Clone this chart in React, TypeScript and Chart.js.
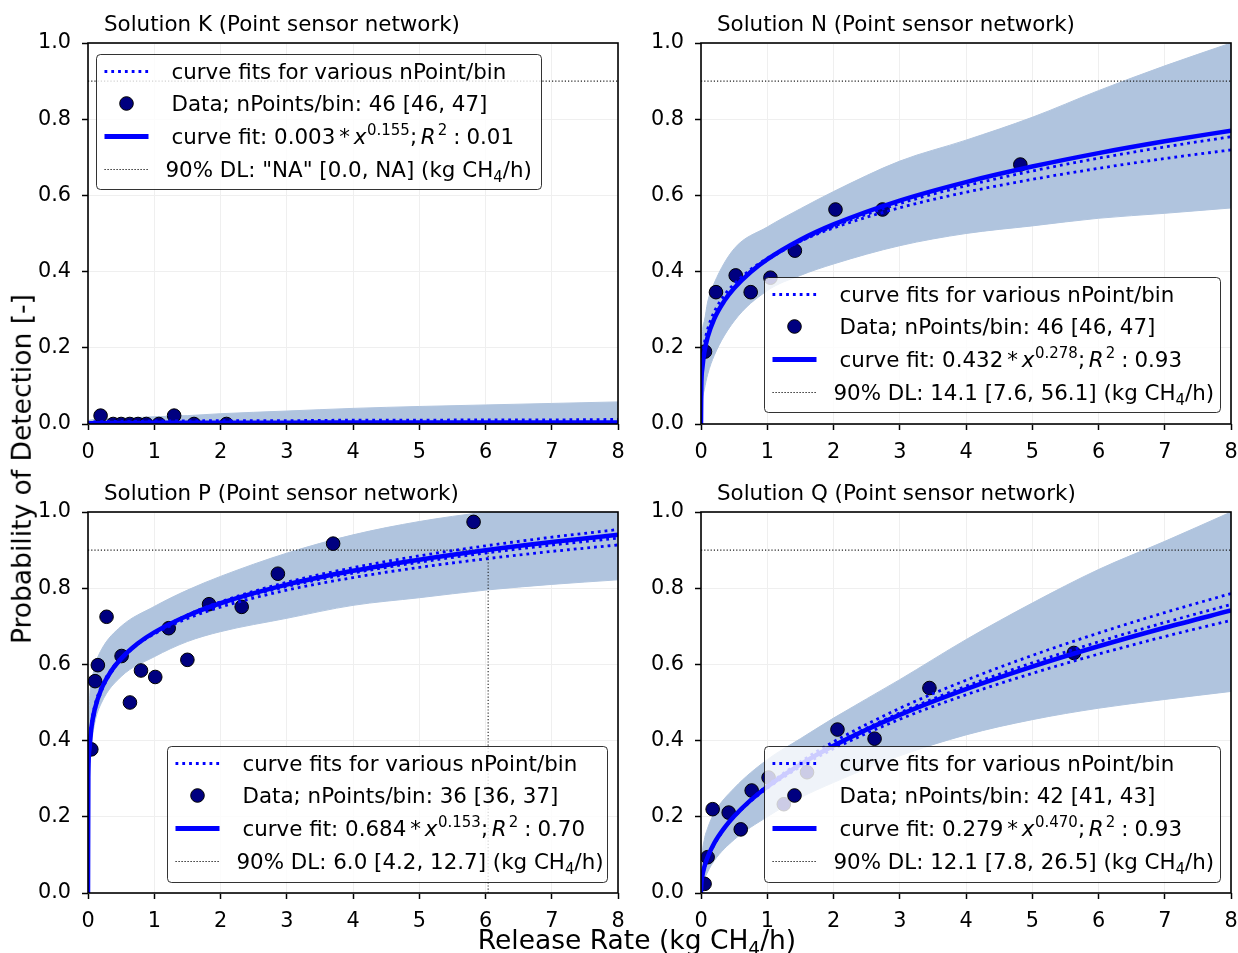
import React, { useEffect, useRef } from 'react';
import { Chart, registerables } from 'chart.js';

Chart.register(...registerables);

const FONT = '"DejaVu Sans", "Liberation Sans", sans-serif';
Chart.defaults.font.family = FONT;

// ---------------- DATA ----------------
const X_TICKS = [0, 1, 2, 3, 4, 5, 6, 7, 8];
const Y_TICKS = [0, 0.2, 0.4, 0.6, 0.8, 1.0];
const DL_LEVEL = 0.9;

// sample positions of the curves (release rate, kg CH4/h)
const CURVE_X = [0, 0.005, 0.02, 0.05, 0.1, 0.2, 0.35, 0.5, 0.75, 1, 1.5, 2, 3, 4, 5, 6, 7, 8];
// sample positions of the bootstrap envelope
const BAND_X = [0, 0.02, 0.05, 0.1, 0.2, 0.5, 1, 1.5, 2, 3, 4, 5, 6, 7, 8];

// ---- Solution K ----
const K_DATA_X = [0.19, 0.38, 0.5, 0.63, 0.755, 0.88, 1.07, 1.3, 1.6, 2.09];
const K_DATA_Y = [0.022, 0, 0, 0, 0, 0, 0, 0.022, 0, 0];
const K_FIT = [0, 0.0013, 0.0016, 0.0019, 0.0021, 0.0023, 0.0026, 0.0027, 0.0029, 0.003, 0.0032, 0.0033, 0.0036, 0.0037, 0.0038, 0.004, 0.0041, 0.0041];
const K_DOT_1 = [0, 0.004, 0.005, 0.005, 0.006, 0.006, 0.007, 0.007, 0.007, 0.008, 0.008, 0.009, 0.009, 0.01, 0.01, 0.011, 0.011, 0.012];
const K_BAND_UP = [0.008, 0.01, 0.011, 0.012, 0.013, 0.015, 0.019, 0.022, 0.027, 0.034, 0.041, 0.046, 0.05, 0.054, 0.058];
const K_BAND_LO = [0, 0, 0, 0, 0, 0, 0, 0, 0, 0, 0, 0, 0, 0, 0];

// ---- Solution N ----
const N_DATA_X = [0.06, 0.226, 0.524, 0.75, 1.048, 1.417, 2.03, 2.74, 4.82];
const N_DATA_Y = [0.19, 0.346, 0.39, 0.346, 0.384, 0.455, 0.563, 0.563, 0.681];
const N_FIT = [0, 0.099, 0.1456, 0.1878, 0.2278, 0.2762, 0.3227, 0.3563, 0.3988, 0.432, 0.4835, 0.5238, 0.5864, 0.635, 0.6757, 0.711, 0.742, 0.77];
const N_DOT_1 = [0, 0.1207, 0.1688, 0.2107, 0.2492, 0.2947, 0.3374, 0.3678, 0.4057, 0.435, 0.4798, 0.5144, 0.5675, 0.6084, 0.642, 0.671, 0.6967, 0.7194];
const N_DOT_2 = [0, 0.1029, 0.1496, 0.1915, 0.2309, 0.2785, 0.3239, 0.3566, 0.3978, 0.43, 0.4797, 0.5185, 0.5785, 0.6252, 0.664, 0.6975, 0.7272, 0.754];
const N_BAND_UP = [0, 0.23, 0.27, 0.32, 0.37, 0.46, 0.517, 0.565, 0.61, 0.69, 0.745, 0.805, 0.875, 0.94, 1.0];
const N_BAND_LO = [0, 0.06, 0.09, 0.13, 0.18, 0.27, 0.35, 0.39, 0.42, 0.468, 0.5, 0.52, 0.54, 0.553, 0.567];

// ---- Solution P ----
const P_DATA_X = [0.05, 0.107, 0.149, 0.28, 0.507, 0.633, 0.8, 1.015, 1.218, 1.5, 1.827, 2.32, 2.866, 3.7, 5.82];
const P_DATA_Y = [0.377, 0.556, 0.598, 0.725, 0.622, 0.5, 0.584, 0.567, 0.695, 0.612, 0.758, 0.751, 0.838, 0.917, 0.974];
const P_FIT = [0, 0.3041, 0.3759, 0.4325, 0.4809, 0.5348, 0.5825, 0.6152, 0.6546, 0.684, 0.7278, 0.7605, 0.8093, 0.8456, 0.8749, 0.8998, 0.9213, 0.9401];
const P_DOT_1 = [0, 0.293, 0.3658, 0.4235, 0.4732, 0.5287, 0.5782, 0.6122, 0.6532, 0.684, 0.7299, 0.7642, 0.8155, 0.8538, 0.8849, 0.9111, 0.9339, 0.954];
const P_DOT_2 = [0, 0.3205, 0.3902, 0.4444, 0.4904, 0.5411, 0.5858, 0.6163, 0.6527, 0.68, 0.7203, 0.7503, 0.7948, 0.8279, 0.8546, 0.877, 0.8965, 0.9136];
const P_DOT_3 = [0, 0.308, 0.3793, 0.4351, 0.4828, 0.5357, 0.5826, 0.6146, 0.6532, 0.682, 0.7248, 0.7567, 0.8043, 0.8396, 0.8682, 0.8923, 0.9132, 0.9316];
const P_BAND_UP = [0, 0.48, 0.55, 0.594, 0.638, 0.7, 0.752, 0.795, 0.831, 0.892, 0.94, 0.975, 1.0, 1.02, 1.04];
const P_BAND_LO = [0, 0.3, 0.384, 0.445, 0.498, 0.568, 0.62, 0.66, 0.686, 0.721, 0.755, 0.775, 0.795, 0.81, 0.822];
const P_DL = 6.04;

// ---- Solution Q ----
const Q_DATA_X = [0.054, 0.1, 0.176, 0.418, 0.6, 0.765, 1.02, 1.25, 1.6, 2.06, 2.62, 3.448, 5.628];
const Q_DATA_Y = [0.024, 0.094, 0.22, 0.211, 0.167, 0.269, 0.303, 0.233, 0.317, 0.429, 0.405, 0.538, 0.63];
const Q_FIT = [0, 0.0231, 0.0444, 0.0682, 0.0945, 0.131, 0.1703, 0.2014, 0.2437, 0.279, 0.3376, 0.3865, 0.4676, 0.5353, 0.5944, 0.6476, 0.6963, 0.7414];
const Q_DOT_1 = [0, 0.0207, 0.041, 0.0644, 0.0906, 0.1275, 0.168, 0.2004, 0.2447, 0.282, 0.3443, 0.3969, 0.4848, 0.5585, 0.6235, 0.6822, 0.736, 0.786];
const Q_DOT_2 = [0, 0.024, 0.0455, 0.0693, 0.0953, 0.1312, 0.1696, 0.1999, 0.2409, 0.275, 0.3313, 0.3783, 0.4559, 0.5203, 0.5765, 0.6271, 0.6731, 0.7156];
const Q_DOT_3 = [0, 0.0219, 0.0427, 0.0662, 0.0924, 0.1289, 0.1685, 0.2, 0.243, 0.279, 0.3389, 0.3891, 0.4728, 0.5427, 0.604, 0.6594, 0.71, 0.757];
const Q_BAND_UP = [0, 0.1, 0.14, 0.17, 0.21, 0.275, 0.35, 0.405, 0.459, 0.56, 0.665, 0.761, 0.849, 0.923, 1.0];
const Q_BAND_LO = [0, 0.015, 0.035, 0.055, 0.085, 0.14, 0.2, 0.25, 0.29, 0.36, 0.415, 0.455, 0.485, 0.508, 0.529];

// legend texts
const TITLES = ['Solution K (Point sensor network)', 'Solution N (Point sensor network)', 'Solution P (Point sensor network)', 'Solution Q (Point sensor network)'];
const N_POINTS = ['46 [46, 47]', '46 [46, 47]', '36 [36, 37]', '42 [41, 43]'];
const FIT_A = ['0.003', '0.432', '0.684', '0.279'];
const FIT_B = ['0.155', '0.278', '0.153', '0.470'];
const FIT_R2 = ['0.01', '0.93', '0.70', '0.93'];
const DL_TEXT = ['"NA" [0.0, NA]', '14.1 [7.6, 56.1]', '6.0 [4.2, 12.7]', '12.1 [7.8, 26.5]'];

// ---------------- STYLE / LAYOUT ----------------
const BLUE = '#0000ff';
const NAVY = '#000080';
const BAND = '#b0c4de';
const GRID = '#efefef';
const AXW = 60; // y-axis width in canvas
const PAD_T = 43;
const PAD_R = 12;
const XAXH = 35;
const AREA_W = 530;
const AREA_H = 381;
const CW = AXW + AREA_W + PAD_R;
const CH = PAD_T + AREA_H + XAXH;
const TXT = 21.4;

type Seg = { t?: string; it?: boolean; sup?: boolean; sub?: boolean; g?: number };

type Panel = {
  idx: number;
  left: number;
  top: number;
  fit: number[];
  dots: number[][];
  bandUp: number[];
  bandLo: number[];
  dataX: number[];
  dataY: number[];
  hEnd: number;
  vLine: number | null;
  legend: { dx: number; dy: number; w: number; h: number };
};

const PANELS: Panel[] = [
  { idx: 0, left: 88, top: 43, fit: K_FIT, dots: [K_DOT_1], bandUp: K_BAND_UP, bandLo: K_BAND_LO, dataX: K_DATA_X, dataY: K_DATA_Y, hEnd: 8, vLine: null, legend: { dx: 8, dy: 11, w: 445, h: 135 } },
  { idx: 1, left: 701, top: 43, fit: N_FIT, dots: [N_DOT_1, N_DOT_2], bandUp: N_BAND_UP, bandLo: N_BAND_LO, dataX: N_DATA_X, dataY: N_DATA_Y, hEnd: 8, vLine: null, legend: { dx: 63, dy: 234, w: 456, h: 135 } },
  { idx: 2, left: 88, top: 512, fit: P_FIT, dots: [P_DOT_1, P_DOT_2, P_DOT_3], bandUp: P_BAND_UP, bandLo: P_BAND_LO, dataX: P_DATA_X, dataY: P_DATA_Y, hEnd: P_DL, vLine: P_DL, legend: { dx: 79, dy: 234, w: 440, h: 136 } },
  { idx: 3, left: 701, top: 512, fit: Q_FIT, dots: [Q_DOT_1, Q_DOT_2, Q_DOT_3], bandUp: Q_BAND_UP, bandLo: Q_BAND_LO, dataX: Q_DATA_X, dataY: Q_DATA_Y, hEnd: 8, vLine: null, legend: { dx: 63, dy: 234, w: 456, h: 136 } },
];

const pts = (xs: number[], ys: number[]) => xs.map((x, i) => ({ x, y: ys[i] }));

function drawRich(ctx: CanvasRenderingContext2D, segs: Seg[], x: number, y: number, size: number) {
  let cx = x;
  for (const s of segs) {
    if (s.g !== undefined) {
      cx += s.g * size;
      continue;
    }
    const small = s.sup || s.sub;
    const fs = small ? size * 0.7 : size;
    ctx.font = `${s.it ? 'italic ' : ''}${fs}px ${FONT}`;
    const dy = s.sup ? -size * 0.42 : s.sub ? size * 0.2 : 0;
    ctx.fillText(s.t || '', cx, y + dy);
    cx += ctx.measureText(s.t || '').width;
  }
}

function panelPlugin(p: Panel) {
  return {
    id: 'panelDeco' + p.idx,
    afterDatasetsDraw(chart: any) {
      const { ctx, chartArea: a } = chart;
      ctx.save();
      ctx.strokeStyle = '#000';
      ctx.lineWidth = 1.6;
      ctx.strokeRect(a.left, a.top, a.right - a.left, a.bottom - a.top);
      ctx.restore();
    },
    afterDraw(chart: any) {
      const { ctx, chartArea: a } = chart;
      const i = p.idx;
      ctx.save();
      // title
      ctx.fillStyle = '#000';
      ctx.textBaseline = 'alphabetic';
      ctx.textAlign = 'left';
      ctx.font = `${TXT}px ${FONT}`;
      ctx.fillText(TITLES[i], a.left + 16, a.top - 12);

      // legend box
      const L = p.legend;
      const x0 = a.left + L.dx + 0.5;
      const y0 = a.top + L.dy + 0.5;
      const r = 4;
      ctx.beginPath();
      ctx.moveTo(x0 + r, y0);
      ctx.lineTo(x0 + L.w - r, y0);
      ctx.arcTo(x0 + L.w, y0, x0 + L.w, y0 + r, r);
      ctx.lineTo(x0 + L.w, y0 + L.h - r);
      ctx.arcTo(x0 + L.w, y0 + L.h, x0 + L.w - r, y0 + L.h, r);
      ctx.lineTo(x0 + r, y0 + L.h);
      ctx.arcTo(x0, y0 + L.h, x0, y0 + L.h - r, r);
      ctx.lineTo(x0, y0 + r);
      ctx.arcTo(x0, y0, x0 + r, y0, r);
      ctx.closePath();
      ctx.fillStyle = 'rgba(255,255,255,0.8)';
      ctx.fill();
      ctx.strokeStyle = 'rgba(0,0,0,0.8)';
      ctx.lineWidth = 1;
      ctx.stroke();

      const rows = [17, 49, 82, 115].map((v) => y0 + v);
      const s0 = x0 + 8;
      const s1 = x0 + 52;
      // row 1: dotted blue
      ctx.strokeStyle = BLUE;
      ctx.lineWidth = 2.8;
      ctx.setLineDash([2.8, 4]);
      ctx.beginPath();
      ctx.moveTo(s0, rows[0]);
      ctx.lineTo(s1, rows[0]);
      ctx.stroke();
      // row 2: data marker
      ctx.setLineDash([]);
      ctx.beginPath();
      ctx.arc((s0 + s1) / 2, rows[1], 6.8, 0, Math.PI * 2);
      ctx.fillStyle = NAVY;
      ctx.fill();
      ctx.strokeStyle = '#000';
      ctx.lineWidth = 1;
      ctx.stroke();
      // row 3: solid fit
      ctx.strokeStyle = BLUE;
      ctx.lineWidth = 5;
      ctx.beginPath();
      ctx.moveTo(s0, rows[2]);
      ctx.lineTo(s1, rows[2]);
      ctx.stroke();
      // row 4: black dotted
      ctx.strokeStyle = '#000';
      ctx.lineWidth = 1;
      ctx.setLineDash([1.2, 1.8]);
      ctx.beginPath();
      ctx.moveTo(s0, rows[3]);
      ctx.lineTo(s1, rows[3]);
      ctx.stroke();
      ctx.setLineDash([]);

      // texts
      ctx.fillStyle = '#000';
      const fs = TXT;
      const off = 7.8;
      drawRich(ctx, [{ t: 'curve fits for various nPoint/bin' }], x0 + 75, rows[0] + off, fs);
      drawRich(ctx, [{ t: 'Data; nPoints/bin: ' + N_POINTS[i] }], x0 + 75, rows[1] + off, fs);
      drawRich(
        ctx,
        [
          { t: 'curve fit: ' + FIT_A[i] },
          { g: 0.18 },
          { t: '*' },
          { g: 0.18 },
          { t: 'x', it: true },
          { g: 0.03 },
          { t: FIT_B[i], sup: true },
          { t: ';' },
          { g: 0.17 },
          { t: 'R', it: true },
          { g: 0.1 },
          { t: '2', sup: true },
          { g: 0.28 },
          { t: ':' },
          { g: 0.28 },
          { t: FIT_R2[i] },
        ],
        x0 + 75,
        rows[2] + off,
        fs
      );
      drawRich(
        ctx,
        [{ t: '90% DL: ' + DL_TEXT[i] + ' (kg CH' }, { t: '4', sub: true }, { t: '/h)' }],
        x0 + 69,
        rows[3] + off,
        fs
      );
      ctx.restore();
    },
  };
}

function makeConfig(p: Panel): any {
  const lineBase = { pointRadius: 0, pointHoverRadius: 0, clip: 0, fill: false };
  const datasets: any[] = [
    {
      ...lineBase,
      data: pts(BAND_X, p.bandLo),
      borderColor: BAND,
      borderWidth: 1,
      cubicInterpolationMode: 'monotone',
      order: 10,
    },
    {
      ...lineBase,
      data: pts(BAND_X, p.bandUp),
      borderColor: BAND,
      borderWidth: 1,
      backgroundColor: BAND,
      fill: '-1',
      cubicInterpolationMode: 'monotone',
      order: 10,
    },
    {
      ...lineBase,
      data: [
        { x: 0, y: DL_LEVEL },
        { x: p.hEnd, y: DL_LEVEL },
      ],
      borderColor: '#222',
      borderWidth: 1.1,
      borderDash: [1.2, 2],
      order: 8,
    },
  ];
  if (p.vLine !== null) {
    datasets.push({
      ...lineBase,
      data: [
        { x: p.vLine, y: 0 },
        { x: p.vLine, y: DL_LEVEL },
      ],
      borderColor: '#222',
      borderWidth: 1.1,
      borderDash: [1.2, 2],
      order: 8,
    });
  }
  datasets.push({
    ...lineBase,
    data: pts(p.dataX, p.dataY),
    showLine: false,
    pointRadius: 6.8,
    pointHoverRadius: 6.8,
    pointBackgroundColor: NAVY,
    pointBorderColor: '#000',
    pointBorderWidth: 1,
    order: 6,
  });
  p.dots.forEach((d) =>
    datasets.push({
      ...lineBase,
      data: pts(CURVE_X, d),
      borderColor: BLUE,
      borderWidth: 2.8,
      borderDash: [2.8, 4],
      cubicInterpolationMode: 'monotone',
      order: 4,
    })
  );
  datasets.push({
    ...lineBase,
    data: pts(CURVE_X, p.fit),
    borderColor: BLUE,
    borderWidth: 4.5,
    cubicInterpolationMode: 'monotone',
    order: 2,
  });

  const tickFont = { family: FONT, size: 20.8 };
  return {
    type: 'line',
    data: { datasets },
    options: {
      responsive: false,
      animation: false,
      devicePixelRatio: 1,
      events: [],
      layout: { padding: { left: 0, right: PAD_R, top: PAD_T, bottom: 0 } },
      plugins: { legend: { display: false }, tooltip: { enabled: false }, title: { display: false } },
      scales: {
        x: {
          type: 'linear',
          min: 0,
          max: 8,
          afterFit: (s: any) => {
            s.height = XAXH;
            s.paddingLeft = 0;
            s.paddingRight = 0;
            s.paddingTop = 0;
            s.paddingBottom = 0;
          },
          afterBuildTicks: (s: any) => {
            s.ticks = X_TICKS.map((v) => ({ value: v }));
          },
          ticks: { font: tickFont, color: '#000', padding: 10, maxRotation: 0, autoSkip: false, callback: (v: any) => String(v) },
          grid: { color: GRID, lineWidth: 1, tickColor: '#000', tickLength: 6, tickWidth: 1.5, drawTicks: true },
          border: { display: false },
        },
        y: {
          type: 'linear',
          min: 0,
          max: 1,
          afterFit: (s: any) => {
            s.width = AXW;
            s.paddingLeft = 0;
            s.paddingRight = 0;
            s.paddingTop = 0;
            s.paddingBottom = 0;
          },
          afterBuildTicks: (s: any) => {
            s.ticks = Y_TICKS.map((v) => ({ value: v }));
          },
          ticks: { font: tickFont, color: '#000', padding: 11, autoSkip: false, callback: (v: any) => Number(v).toFixed(1) },
          grid: { color: GRID, lineWidth: 1, tickColor: '#000', tickLength: 6, tickWidth: 1.5, drawTicks: true },
          border: { display: false },
        },
      },
    },
    plugins: [panelPlugin(p)],
  };
}

function PanelChart({ p }: { p: Panel }) {
  const ref = useRef<HTMLCanvasElement>(null);
  useEffect(() => {
    const chart = new Chart(ref.current as HTMLCanvasElement, makeConfig(p));
    return () => chart.destroy();
  }, [p]);
  return (
    <canvas
      ref={ref}
      width={CW}
      height={CH}
      style={{ position: 'absolute', left: p.left - AXW, top: p.top - PAD_T, width: CW, height: CH, display: 'block' }}
    />
  );
}

export default function App() {
  return (
    <div
      style={{
        position: 'fixed',
        left: 0,
        top: 0,
        width: 1238,
        height: 953,
        background: '#fff',
        overflow: 'hidden',
        fontFamily: FONT,
        color: '#000',
      }}
    >
      {PANELS.map((p) => (
        <PanelChart key={p.idx} p={p} />
      ))}
      <div
        style={{
          position: 'absolute',
          left: 22,
          top: 469,
          transform: 'translate(-50%, -50%) rotate(-90deg)',
          whiteSpace: 'nowrap',
          fontSize: 26.5,
          lineHeight: 1,
        }}
      >
        Probability of Detection [-]
      </div>
      <div
        style={{
          position: 'absolute',
          left: 637,
          top: 940,
          transform: 'translate(-50%, -50%)',
          whiteSpace: 'nowrap',
          fontSize: 26.5,
          lineHeight: 1,
        }}
      >
        Release Rate (kg CH
        <span style={{ fontSize: '70%', position: 'relative', top: '0.3em' }}>4</span>
        /h)
      </div>
    </div>
  );
}
